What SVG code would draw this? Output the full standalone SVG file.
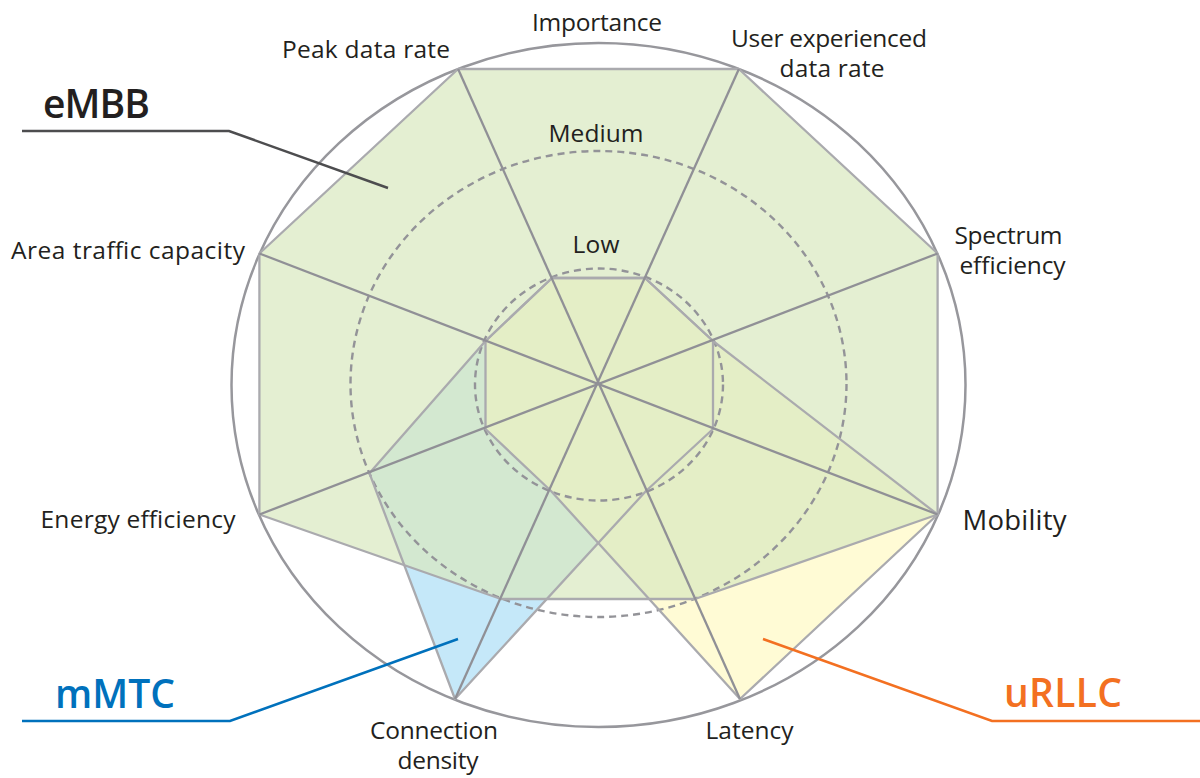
<svg xmlns="http://www.w3.org/2000/svg" width="1200" height="778" viewBox="0 0 1200 778">
<style>
.lbl{font-family:"Open Sans","Noto Sans","Liberation Sans",sans-serif;font-size:24.5px;fill:#231f20}
.big{font-family:"Open Sans","Noto Sans","Liberation Sans",sans-serif;font-size:39px;font-weight:600}
.edge{fill:none;stroke:#aaaaae;stroke-width:2.3;stroke-linejoin:round}
.axis{stroke:#909096;stroke-width:2.3;fill:none}
.dash{fill:none;stroke:#939398;stroke-width:2.4;stroke-dasharray:7 5}
.lead{fill:none;stroke-width:2.5}
</style>
<rect width="1200" height="778" fill="#ffffff"/>
<g id="fills">
<polygon id="mmtc-fill" points="552,278 645,278 713,341 713,429 646,491 455,699 369.4,473.2 485.5,341" fill="#c5e8f9"/>
<polygon id="urllc-fill" points="552,278 645,278 713,341 937.6,514.5 740,699 551,491 485.5,429 485.5,341" fill="#fffbd5"/>
<polygon id="embb-fill" points="458.1,69 738.9,69 937.6,253.5 937.6,514.5 695,599 501,599 259.4,514.5 259.4,253.5" fill="#d9e8c0" fill-opacity="0.71"/>
</g>
<g id="grid">
<ellipse cx="599" cy="384.5" rx="124" ry="116" class="dash"/>
<ellipse cx="598.5" cy="384" rx="248" ry="233" class="dash"/>
<ellipse cx="598.5" cy="385" rx="367" ry="342" fill="none" stroke="#97979c" stroke-width="2.5"/>
</g>
<g id="outlines">
<polygon id="mmtc" class="edge" points="552,278 645,278 713,341 713,429 646,491 455,699 369.4,473.2 485.5,341"/>
<polygon id="urllc" class="edge" points="552,278 645,278 713,341 937.6,514.5 740,699 551,491 485.5,429 485.5,341"/>
<polygon id="embb" class="edge" points="458.1,69 738.9,69 937.6,253.5 937.6,514.5 695,599 501,599 259.4,514.5 259.4,253.5"/>
</g>
<g id="axes">
<line class="axis" x1="458.1" y1="69" x2="740" y2="699"/>
<line class="axis" x1="738.9" y1="69" x2="455" y2="699"/>
<line class="axis" x1="259.4" y1="253.5" x2="937.6" y2="514.5"/>
<line class="axis" x1="937.6" y1="253.5" x2="259.4" y2="514.5"/>
</g>
<g id="connectors">
<polyline class="lead" stroke="#4d4d4f" points="22,131 229,131 388,188"/>
<polyline class="lead" stroke="#0071bc" points="22,721 230,721 458,639"/>
<polyline class="lead" stroke="#f37021" points="763,639 992,721 1200,721"/>
</g>
<g id="labels">
<text class="lbl" x="597" y="30.5" text-anchor="middle" textLength="130">Importance</text>
<text class="lbl" x="366" y="58" text-anchor="middle" textLength="168">Peak data rate</text>
<text class="lbl" x="829" y="47" text-anchor="middle" textLength="196">User experienced</text>
<text class="lbl" x="832" y="77" text-anchor="middle" textLength="105">data rate</text>
<text class="lbl" x="596" y="142" text-anchor="middle" textLength="95">Medium</text>
<text class="lbl" x="596" y="253" text-anchor="middle" textLength="47">Low</text>
<text class="lbl" x="1008.5" y="244" text-anchor="middle" textLength="108">Spectrum</text>
<text class="lbl" x="1012.5" y="274" text-anchor="middle" textLength="106">efficiency</text>
<text class="lbl" x="128" y="259" text-anchor="middle" textLength="234">Area traffic capacity</text>
<text class="lbl" x="138" y="528" text-anchor="middle" textLength="195">Energy efficiency</text>
<text class="lbl" x="962.5" y="530" style="font-size:27.5px" textLength="104">Mobility</text>
<text class="lbl" x="749.5" y="739" text-anchor="middle" textLength="88">Latency</text>
<text class="lbl" x="434" y="739" text-anchor="middle" textLength="128">Connection</text>
<text class="lbl" x="438" y="769" text-anchor="middle" textLength="81">density</text>
</g>
<g id="scenario-labels">
<text class="big" x="43" y="117.5" fill="#231f20" textLength="107">eMBB</text>
<text class="big" x="55" y="708" fill="#0071bc" textLength="120">mMTC</text>
<text class="big" x="1004" y="707" fill="#f37021" textLength="118">uRLLC</text>
</g>
</svg>
